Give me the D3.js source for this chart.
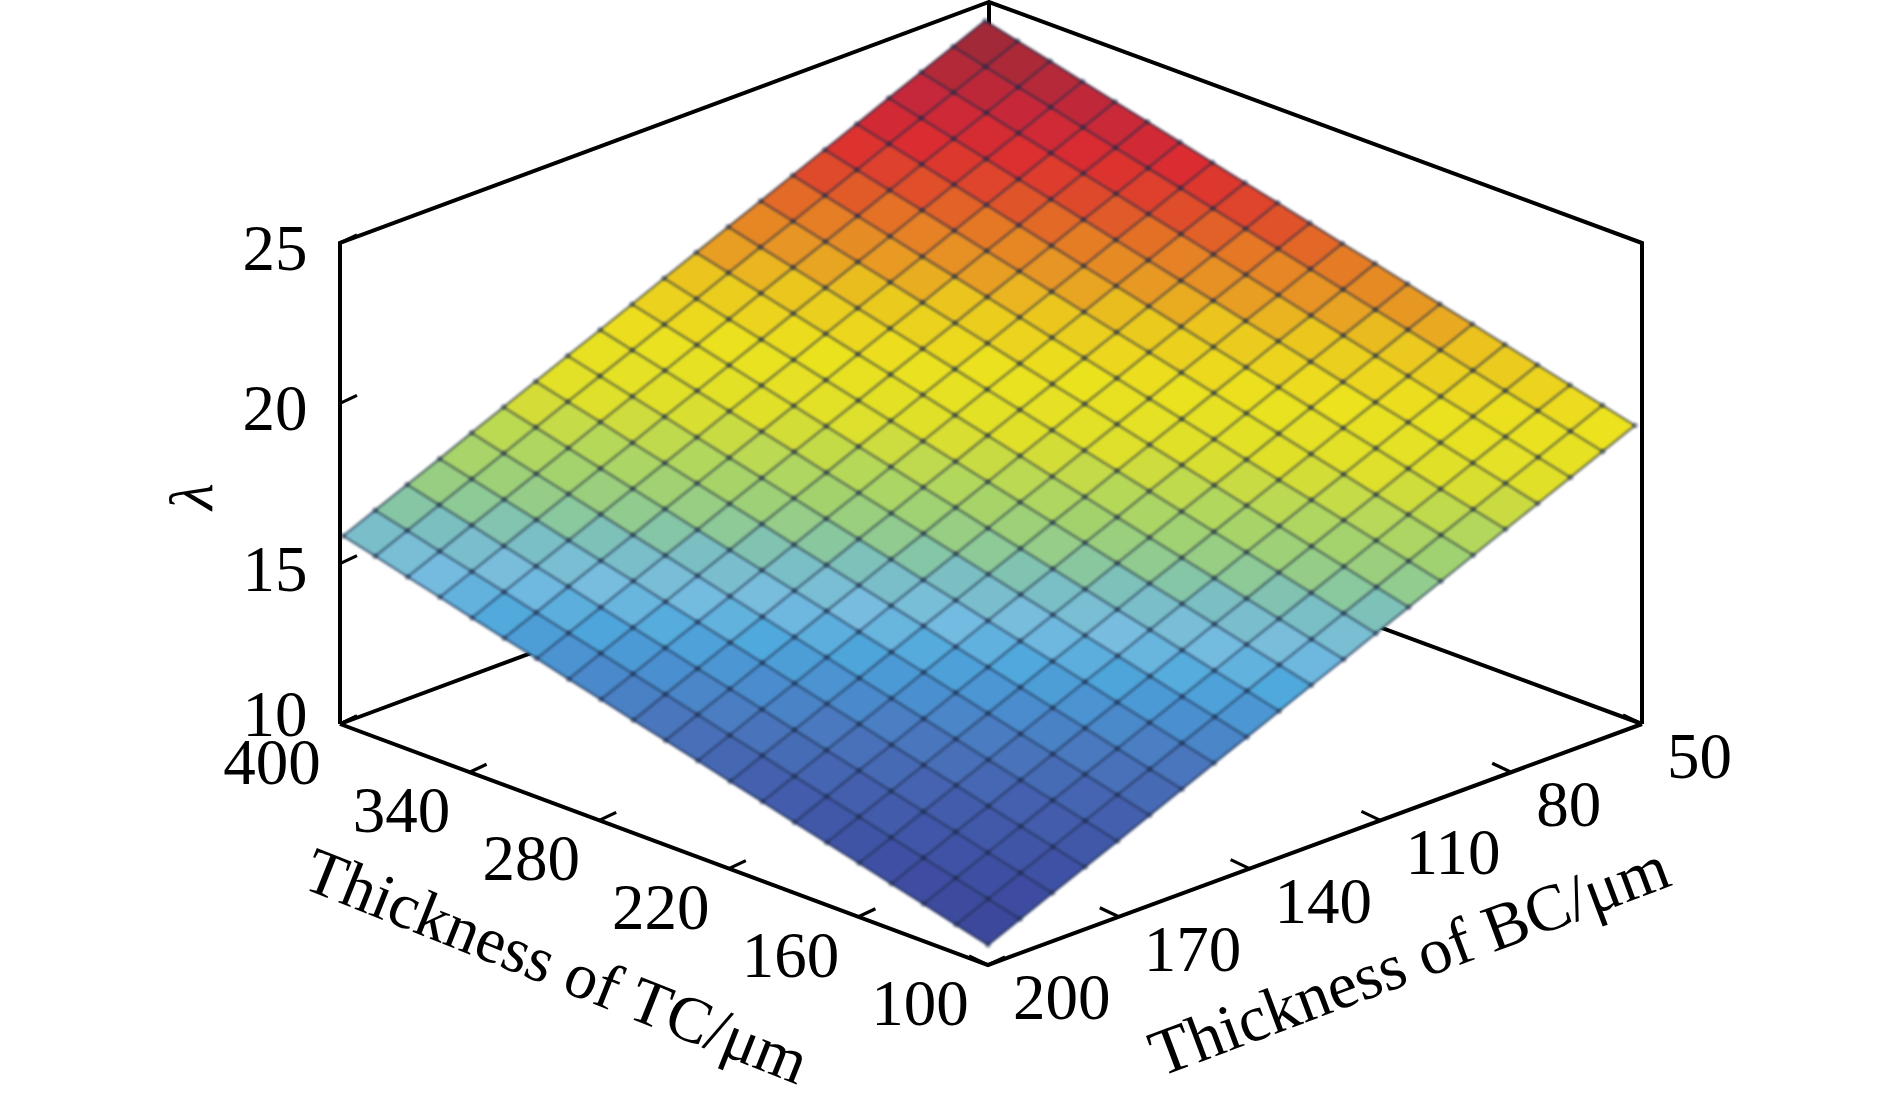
<!DOCTYPE html>
<html>
<head>
<meta charset="utf-8">
<script src="https://cdn.jsdelivr.net/npm/d3@7"></script>
<style>
    body { margin: 0; background: #fff; }
    text { font-family: "Liberation Serif", serif; fill: #000; }
    .tick-label { font-size: 65px; }
    .axis-title { font-size: 65px; }
    .box-line { fill: none; stroke: #000; stroke-width: 4; stroke-linejoin: miter; }
    .tick-line { stroke: #000; stroke-width: 3.2; }
    .mesh-line { fill: none; stroke: rgba(28, 42, 74, 0.45); stroke-width: 3; stroke-linejoin: round; }
    .mesh-node { fill: rgba(28, 42, 74, 0.4); }
    .surface { filter: blur(0.8px); }
</style>
</head>
<body>
<svg id="chart" width="1890" height="1114"></svg>
<script>
const tcTicks = [400, 340, 280, 220, 160, 100];
const bcTicks = [200, 170, 140, 110, 80, 50];
const zTicks = [10, 15, 20, 25];

// grid of the fitted surface
const gridTC = [100, 114.9, 129.9, 144.8, 159.7, 174.7, 189.6, 204.5, 219.4, 234.4, 249.3, 264.2, 279.2, 294.1, 309, 324, 338.9, 353.8, 368.7, 383.7, 398.6];
const gridBC = [200, 192.6, 185.2, 177.7, 170.3, 162.9, 155.5, 148.1, 140.6, 133.2, 125.8, 118.4, 111, 103.5, 96.1, 88.7, 81.3, 73.9, 66.4, 59, 51.6];

// lambda, one row per gridTC value, one column per gridBC value
const lambdaRows = [
    [10.62, 11.06, 11.50, 11.94, 12.37, 12.81, 13.25, 13.69, 14.13, 14.57, 15.01, 15.44, 15.88, 16.32, 16.76, 17.20, 17.64, 18.07, 18.51, 18.95, 19.39],
    [10.88, 11.32, 11.76, 12.20, 12.64, 13.08, 13.51, 13.95, 14.39, 14.83, 15.27, 15.70, 16.14, 16.58, 17.02, 17.46, 17.89, 18.33, 18.77, 19.21, 19.65],
    [11.15, 11.59, 12.02, 12.46, 12.90, 13.34, 13.77, 14.21, 14.65, 15.09, 15.53, 15.96, 16.40, 16.84, 17.28, 17.72, 18.15, 18.59, 19.03, 19.47, 19.90],
    [11.41, 11.85, 12.29, 12.72, 13.16, 13.60, 14.04, 14.47, 14.91, 15.35, 15.79, 16.22, 16.66, 17.10, 17.54, 17.97, 18.41, 18.85, 19.29, 19.72, 20.16],
    [11.68, 12.11, 12.55, 12.99, 13.42, 13.86, 14.30, 14.74, 15.17, 15.61, 16.05, 16.48, 16.92, 17.36, 17.80, 18.23, 18.67, 19.11, 19.54, 19.98, 20.42],
    [11.94, 12.38, 12.81, 13.25, 13.69, 14.12, 14.56, 15.00, 15.43, 15.87, 16.31, 16.74, 17.18, 17.62, 18.05, 18.49, 18.93, 19.36, 19.80, 20.24, 20.68],
    [12.20, 12.64, 13.08, 13.51, 13.95, 14.39, 14.82, 15.26, 15.70, 16.13, 16.57, 17.00, 17.44, 17.88, 18.31, 18.75, 19.19, 19.62, 20.06, 20.50, 20.93],
    [12.47, 12.90, 13.34, 13.78, 14.21, 14.65, 15.08, 15.52, 15.96, 16.39, 16.83, 17.26, 17.70, 18.14, 18.57, 19.01, 19.45, 19.88, 20.32, 20.75, 21.19],
    [12.73, 13.17, 13.60, 14.04, 14.47, 14.91, 15.35, 15.78, 16.22, 16.65, 17.09, 17.52, 17.96, 18.40, 18.83, 19.27, 19.70, 20.14, 20.57, 21.01, 21.45],
    [13.00, 13.43, 13.87, 14.30, 14.74, 15.17, 15.61, 16.04, 16.48, 16.91, 17.35, 17.78, 18.22, 18.66, 19.09, 19.53, 19.96, 20.40, 20.83, 21.27, 21.70],
    [13.26, 13.70, 14.13, 14.57, 15.00, 15.44, 15.87, 16.31, 16.74, 17.18, 17.61, 18.05, 18.48, 18.92, 19.35, 19.79, 20.22, 20.66, 21.09, 21.53, 21.96],
    [13.52, 13.96, 14.39, 14.83, 15.26, 15.70, 16.13, 16.57, 17.00, 17.44, 17.87, 18.31, 18.74, 19.17, 19.61, 20.04, 20.48, 20.91, 21.35, 21.78, 22.22],
    [13.79, 14.22, 14.66, 15.09, 15.52, 15.96, 16.39, 16.83, 17.26, 17.70, 18.13, 18.57, 19.00, 19.43, 19.87, 20.30, 20.74, 21.17, 21.61, 22.04, 22.47],
    [14.05, 14.49, 14.92, 15.35, 15.79, 16.22, 16.66, 17.09, 17.52, 17.96, 18.39, 18.83, 19.26, 19.69, 20.13, 20.56, 20.99, 21.43, 21.86, 22.30, 22.73],
    [14.32, 14.75, 15.18, 15.62, 16.05, 16.48, 16.92, 17.35, 17.79, 18.22, 18.65, 19.09, 19.52, 19.95, 20.39, 20.82, 21.25, 21.69, 22.12, 22.55, 22.99],
    [14.58, 15.01, 15.45, 15.88, 16.31, 16.75, 17.18, 17.61, 18.05, 18.48, 18.91, 19.35, 19.78, 20.21, 20.65, 21.08, 21.51, 21.95, 22.38, 22.81, 23.25],
    [14.84, 15.28, 15.71, 16.14, 16.58, 17.01, 17.44, 17.87, 18.31, 18.74, 19.17, 19.61, 20.04, 20.47, 20.90, 21.34, 21.77, 22.20, 22.64, 23.07, 23.50],
    [15.11, 15.54, 15.97, 16.41, 16.84, 17.27, 17.70, 18.14, 18.57, 19.00, 19.43, 19.87, 20.30, 20.73, 21.16, 21.60, 22.03, 22.46, 22.89, 23.33, 23.76],
    [15.37, 15.80, 16.24, 16.67, 17.10, 17.53, 17.97, 18.40, 18.83, 19.26, 19.69, 20.13, 20.56, 20.99, 21.42, 21.85, 22.29, 22.72, 23.15, 23.58, 24.02],
    [15.64, 16.07, 16.50, 16.93, 17.36, 17.80, 18.23, 18.66, 19.09, 19.52, 19.95, 20.39, 20.82, 21.25, 21.68, 22.11, 22.55, 22.98, 23.41, 23.84, 24.27],
    [15.90, 16.33, 16.76, 17.19, 17.63, 18.06, 18.49, 18.92, 19.35, 19.78, 20.22, 20.65, 21.08, 21.51, 21.94, 22.37, 22.80, 23.24, 23.67, 24.10, 24.53]
];

// colour ramp sampled along the middle of the surface
const colorStops = [10.6, 11.8, 12.8, 13.6, 14.3, 14.9, 15.5, 16.17, 16.39, 16.69, 17.14, 17.59, 18.04, 18.33, 19.3, 20.3, 20.7, 21.4, 21.9, 22.6, 23.3, 24.5];
const colorValues = ["#3a4597", "#3f50a4", "#4460ae", "#4a76bd", "#4a8fcf", "#4fa8dc", "#78bde0", "#7bbfc0", "#85c6a7", "#93cc8c", "#a2d26f", "#b5d85a", "#cddc3e", "#dfe02a", "#ece21e", "#ebc51e", "#e8a023", "#e57a25", "#e0502a", "#dc2c30", "#c5283a", "#962a36"];

const svg = d3.select("#chart");

const tcScale = d3.scaleLinear().domain([100, 400]).range([0, 1]);
const bcScale = d3.scaleLinear().domain([200, 50]).range([0, 1]);
const zScale = d3.scaleLinear().domain([10, 25]).range([0, 481]);
const color = d3.scaleLinear().domain(colorStops).range(colorValues);

// oblique projection of the box: bottom vertex at (988, 965)
// the a * b term pulls the back corner in, the box is not a true parallelogram
function project(tc, bc, z) {
    const a = tcScale(tc), b = bcScale(bc);
    return [988 - a * 648 + b * 654 - a * b * 5, 965 - (a + b) * 241 - zScale(z)];
}

const line = d3.line();

// box edges behind the surface
const backEdges = [
    [[400, 50, 10], [400, 200, 10]],
    [[400, 50, 10], [100, 50, 10]],
    [[400, 50, 10], [400, 50, 25]]
];
svg.append("g").selectAll("path")
    .data(backEdges)
    .join("path")
    .attr("class", "box-line")
    .attr("d", d => line(d.map(p => project(...p))));

// surface cells
const surface = svg.append("g").attr("class", "surface");
const cells = [];
const nodes = [];
d3.range(gridTC.length).forEach(i => {
    d3.range(gridBC.length).forEach(j => {
        nodes.push({ i, j });
        if (i < gridTC.length - 1 && j < gridBC.length - 1) {
            cells.push({ i, j, z: d3.mean([lambdaRows[i][j], lambdaRows[i + 1][j], lambdaRows[i][j + 1], lambdaRows[i + 1][j + 1]]) });
        }
    });
});
const gridPoint = (i, j) => project(gridTC[i], gridBC[j], lambdaRows[i][j]);

surface.selectAll("path.cell")
    .data(cells)
    .join("path")
    .attr("class", "cell")
    .attr("fill", d => color(d.z))
    .attr("stroke", d => color(d.z))
    .attr("stroke-width", 0.8)
    .attr("d", d => line([gridPoint(d.i, d.j), gridPoint(d.i + 1, d.j), gridPoint(d.i + 1, d.j + 1), gridPoint(d.i, d.j + 1)]) + "Z");

surface.selectAll("path.row")
    .data(d3.range(gridTC.length))
    .join("path")
    .attr("class", "mesh-line row")
    .attr("d", i => line(gridBC.map((_, j) => gridPoint(i, j))));

surface.selectAll("path.col")
    .data(d3.range(gridBC.length))
    .join("path")
    .attr("class", "mesh-line col")
    .attr("d", j => line(gridTC.map((_, i) => gridPoint(i, j))));

// darker spots where the mesh lines cross
surface.selectAll("circle.mesh-node")
    .data(nodes)
    .join("circle")
    .attr("class", "mesh-node")
    .attr("cx", d => gridPoint(d.i, d.j)[0])
    .attr("cy", d => gridPoint(d.i, d.j)[1])
    .attr("r", 3);

// box edges in front
const frontEdges = [
    [[400, 200, 10], [400, 200, 25], [400, 50, 25], [100, 50, 25], [100, 50, 10]],
    [[400, 200, 10], [100, 200, 10], [100, 50, 10]]
];
svg.append("g").selectAll("path")
    .data(frontEdges)
    .join("path")
    .attr("class", "box-line")
    .attr("d", d => line(d.map(p => project(...p))));

// ticks
const ticks = svg.append("g");
ticks.selectAll("line.tc")
    .data(tcTicks)
    .join("line")
    .attr("class", "tick-line tc")
    .attr("x1", d => project(d, 200, 10)[0])
    .attr("y1", d => project(d, 200, 10)[1])
    .attr("x2", d => project(d, 200, 10)[0] + 17)
    .attr("y2", d => project(d, 200, 10)[1] - 8);
ticks.selectAll("line.bc")
    .data(bcTicks)
    .join("line")
    .attr("class", "tick-line bc")
    .attr("x1", d => project(100, d, 10)[0])
    .attr("y1", d => project(100, d, 10)[1])
    .attr("x2", d => project(100, d, 10)[0] - 19)
    .attr("y2", d => project(100, d, 10)[1] - 9);
ticks.selectAll("line.z")
    .data(zTicks)
    .join("line")
    .attr("class", "tick-line z")
    .attr("x1", d => project(400, 200, d)[0])
    .attr("y1", d => project(400, 200, d)[1])
    .attr("x2", d => project(400, 200, d)[0] + 17)
    .attr("y2", d => project(400, 200, d)[1] - 8);

// tick labels
svg.append("g").selectAll("text")
    .data(tcTicks)
    .join("text")
    .attr("class", "tick-label")
    .attr("text-anchor", "middle")
    .attr("x", d => project(d, 200, 10)[0] - 68)
    .attr("y", d => project(d, 200, 10)[1] + 60)
    .text(d => d);
svg.append("g").selectAll("text")
    .data(bcTicks)
    .join("text")
    .attr("class", "tick-label")
    .attr("x", d => project(100, d, 10)[0] + 25)
    .attr("y", d => project(100, d, 10)[1] + 54)
    .text(d => d);
svg.append("g").selectAll("text")
    .data(zTicks)
    .join("text")
    .attr("class", "tick-label")
    .attr("text-anchor", "middle")
    .attr("x", 275)
    .attr("y", d => project(400, 200, d)[1] + (d === 10 ? 12 : 27))
    .text(d => d);

// axis titles
svg.append("text")
    .attr("class", "axis-title")
    .attr("transform", "translate(300,887) rotate(21.7)")
    .text("Thickness of TC/μm");
svg.append("text")
    .attr("class", "axis-title")
    .style("font-size", "66px")
    .attr("transform", "translate(1160,1077) rotate(-20.5)")
    .text("Thickness of BC/μm");
svg.append("text")
    .attr("transform", "translate(212,510) rotate(-90)")
    .attr("font-size", 62)
    .attr("font-style", "italic")
    .text("λ");
</script>
</body>
</html>
